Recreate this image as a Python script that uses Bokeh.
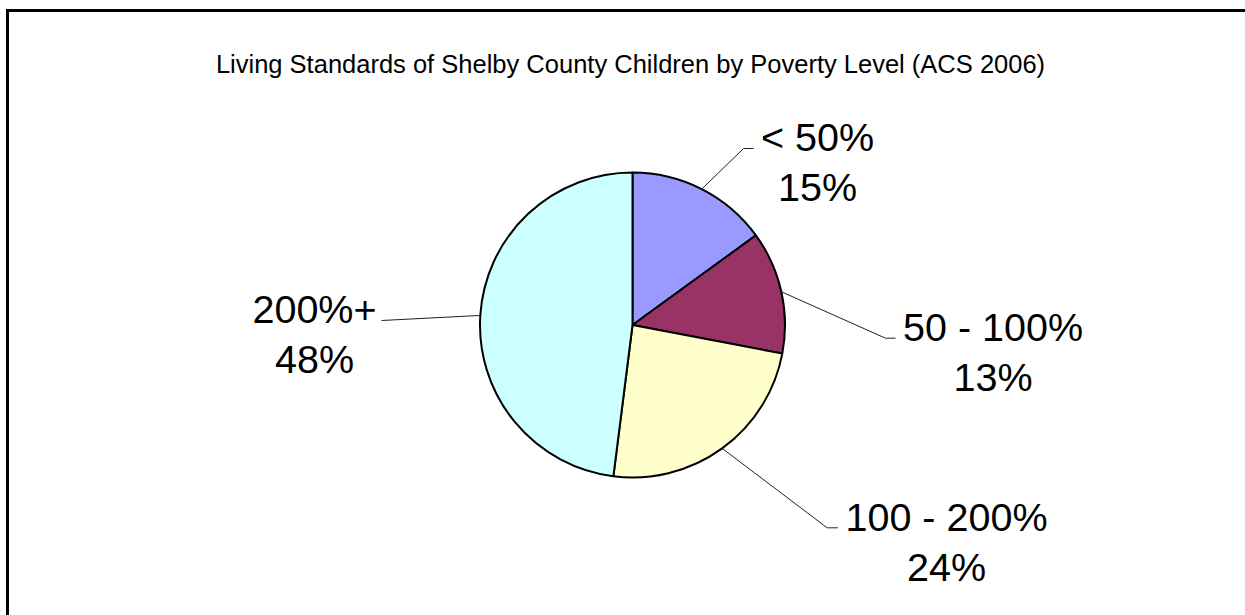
import math
from bokeh.plotting import figure
from bokeh.models import Range1d, ColumnDataSource
from bokeh.core.properties import value
from bokeh.embed import file_html
from bokeh.resources import INLINE

# ---- data ----
title_text = "Living Standards of Shelby County Children by Poverty Level (ACS 2006)"
categories = ["< 50%", "50 - 100%", "100 - 200%", "200%+"]
shares = [15, 13, 24, 48]
colors = ["#9999FF", "#993366", "#FFFFCC", "#CCFFFF"]

# ---- layout (screen-pixel coordinates; y data = -screen y) ----
W, H = 1245, 615
CX, CY, R = 632.0, 324.5, 152.5
FONT = value("Liberation Sans")

# label anchors: (center x, baseline of first line) and leader elbow/end points
label_pos = [(817, 136), (992.5, 326.7), (946, 516.7), (314, 308.3)]
leader_elbow = [(743, 148), (885, 337.7), (826.7, 527.3), (381, 320)]
leader_end = [(753, 148), (895, 337.7), (837.3, 527.3), (381, 320)]
LINE_GAP = 50

p = figure(width=W, height=H, output_backend="svg", toolbar_location=None,
           x_range=Range1d(0, W), y_range=Range1d(-H, 0),
           x_axis_type=None, y_axis_type=None, min_border=0)
p.grid.visible = False
p.outline_line_color = None
p.background_fill_color = "white"
p.border_fill_color = "white"

# chart border (left and top edges visible in the window)
p.line(x=[7, 7, W + 5], y=[-(H + 5), -10, -10], line_color="black",
       line_width=3, line_join="miter")

# title
p.text(x=[630], y=[-63.3], text=[title_text], text_font=FONT,
       text_font_size=value("25.5px"), text_align="center",
       text_baseline="alphabetic", text_color="black")

# pie wedges (clockwise from 12 o'clock)
total = float(sum(shares))
starts, ends, mids = [], [], []
cum = 0.0
for s in shares:
    a0 = math.pi / 2 - 2 * math.pi * cum / total
    cum += s
    a1 = math.pi / 2 - 2 * math.pi * cum / total
    starts.append(a0)
    ends.append(a1)
    mids.append((a0 + a1) / 2)

src = ColumnDataSource(dict(x=[CX] * len(shares), y=[-CY] * len(shares),
                            start=starts, end=ends, color=colors))
p.wedge(x="x", y="y", radius=R, start_angle="start", end_angle="end",
        direction="clock", fill_color="color", line_color="black",
        line_width=2, source=src)

# leader lines
xs, ys = [], []
for i, m in enumerate(mids):
    sx = CX + R * math.cos(m)
    sy = -CY + R * math.sin(m)
    ex, ey = leader_elbow[i]
    fx, fy = leader_end[i]
    xs.append([sx, ex, fx])
    ys.append([sy, -ey, -fy])
p.multi_line(xs=xs, ys=ys, line_color="#202020", line_width=1)

# labels
lx = [pos[0] for pos in label_pos]
p.text(x=lx, y=[-pos[1] for pos in label_pos], text=categories,
       text_font=FONT, text_font_size=value("39.5px"), text_align="center",
       text_baseline="alphabetic", text_color="black")
p.text(x=lx, y=[-(pos[1] + LINE_GAP) for pos in label_pos],
       text=[f"{s:g}%" for s in shares],
       text_font=FONT, text_font_size=value("39.5px"), text_align="center",
       text_baseline="alphabetic", text_color="black")

open("out.html", "w").write(file_html(p, INLINE))
